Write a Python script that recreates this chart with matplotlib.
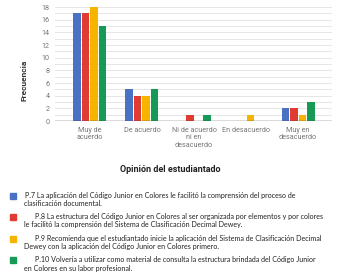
import matplotlib.pyplot as plt
import numpy as np

categories = ["Muy de\nacuerdo", "De acuerdo", "Ni de acuerdo\nni en\ndesacuerdo",
              "En desacuerdo", "Muy en\ndesacuerdo"]
p7 = [17, 5, 0, 0, 2]
p8 = [17, 4, 1, 0, 2]
p9 = [18, 4, 0, 1, 1]
p10 = [15, 5, 1, 0, 3]
series = [p7, p8, p9, p10]
colors = ['#4a72c4', '#e03c31', '#f6b400', '#179a55']
legend_lines = [
    ("P.7 La aplicación del Código Junior en Colores le facilitó la comprensión del proceso de",
     "clasificación documental."),
    ("P.8 La estructura del Código Junior en Colores al ser organizada por elementos y por colores",
     "le facilitó la comprensión del Sistema de Clasificación Decimal Dewey."),
    ("P.9 Recomienda que el estudiantado inicie la aplicación del Sistema de Clasificación Decimal",
     "Dewey con la aplicación del Código Junior en Colores primero."),
    ("P.10 Volvería a utilizar como material de consulta la estructura brindada del Código Junior",
     "en Colores en su labor profesional."),
]

W, H = 359, 278
fig = plt.figure(figsize=(W / 100, H / 100), dpi=100)
ax = fig.add_axes([55 / W, 1 - 121 / H, 277 / W, 114 / H])

x = np.arange(len(categories))
step = 0.163
width = 0.145
for i, (vals, c) in enumerate(zip(series, colors)):
    ax.bar(x + (i - 1.5) * step, vals, width, color=c, zorder=3)

ax.set_xlim(-0.67, 4.65)
ax.set_ylim(0, 18)
ax.set_yticks(range(0, 19, 2))
ax.set_yticks(range(0, 19), minor=True)
ax.grid(axis='y', which='both', color='#e6e6e6', linewidth=0.7, zorder=0)
ax.axhline(0, color='#444444', linewidth=1.0, zorder=4)
for s in ax.spines.values():
    s.set_visible(False)
ax.tick_params(axis='both', which='both', length=0, labelsize=5.2, colors='#777777', pad=4)
ax.set_xticks(x)
ax.set_xticklabels(categories, fontfamily='Roboto', linespacing=1.15, va='top')
for lab in ax.get_yticklabels():
    lab.set_fontfamily('Roboto')
ax.set_ylabel("Frecuencia", fontfamily='Roboto', fontweight='bold', fontsize=6, color='#333333')
ax.yaxis.set_label_coords(-0.101, 0.36)

fig.text(170 / W, 1 - 169 / H, "Opinión del estudiantado", ha='center', va='center',
         fontfamily='Roboto', fontweight='bold', fontsize=6.5, color='#222222')

ys = [195.5, 216.5, 238.5, 259.5]
for i, ((l1, l2), c, y) in enumerate(zip(legend_lines, colors, ys)):
    fig.patches.append(plt.Rectangle((10 / W, 1 - (y + 3) / H), 6 / W, 6 / H,
                                     transform=fig.transFigure, color=c, figure=fig))
    x1 = 25 if i == 0 else 35
    fig.text(x1 / W, 1 - y / H, l1, ha='left', va='center', fontfamily='Lato',
             fontsize=5.15, color='#222222')
    fig.text(24.5 / W, 1 - (y + 8.5) / H, l2, ha='left', va='center', fontfamily='Lato',
             fontsize=5.15, color='#222222')

fig.savefig('out.png', dpi=100)
